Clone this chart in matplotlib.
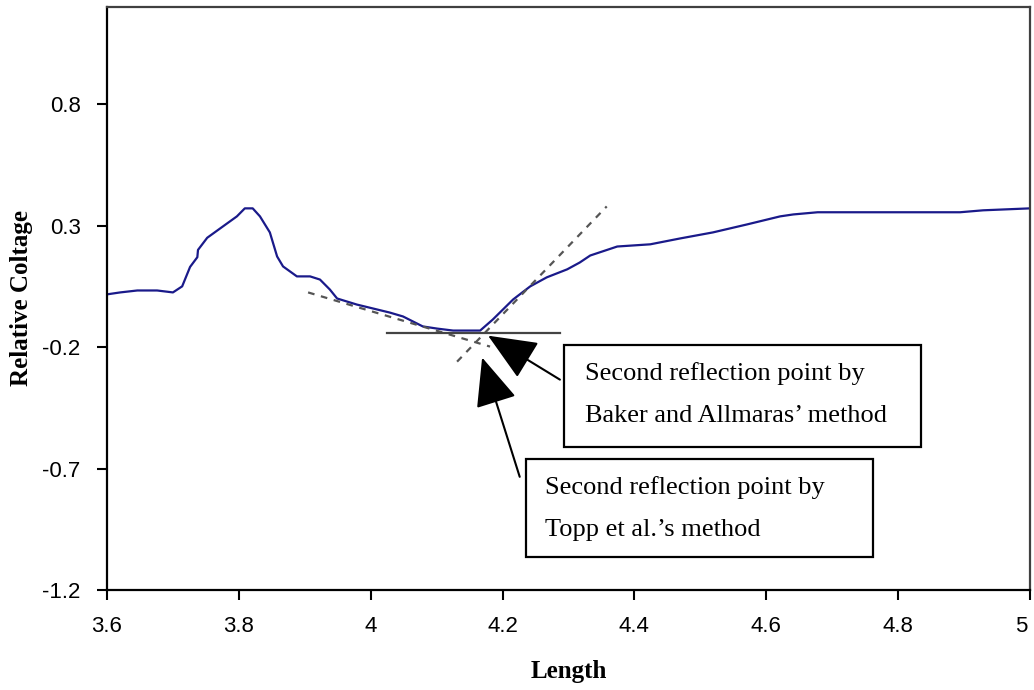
import numpy as np
import matplotlib
matplotlib.use("Agg")
import matplotlib.pyplot as plt
import matplotlib.transforms as mtransforms
from matplotlib.patches import Rectangle
from matplotlib.ticker import FuncFormatter

# reflection trace
length = [3.600, 3.620, 3.646, 3.676, 3.700, 3.714, 3.726, 3.737, 3.738, 3.752,
          3.776, 3.797, 3.809, 3.821, 3.832, 3.847, 3.858, 3.867, 3.888, 3.908,
          3.923, 3.938, 3.949, 3.979, 4.029, 4.049, 4.079, 4.101, 4.125, 4.166,
          4.185, 4.216, 4.242, 4.267, 4.298, 4.317, 4.333, 4.374, 4.424, 4.469,
          4.519, 4.571, 4.621, 4.641, 4.678, 4.894, 4.929, 5.000]
voltage = [0.017, 0.025, 0.033, 0.033, 0.025, 0.050, 0.130, 0.170, 0.200, 0.250,
           0.297, 0.338, 0.371, 0.371, 0.338, 0.272, 0.173, 0.132, 0.091, 0.091,
           0.078, 0.037, 0.000, -0.025, -0.058, -0.074, -0.115, -0.124, -0.132, -0.132,
           -0.087, -0.004, 0.050, 0.087, 0.120, 0.148, 0.177, 0.214, 0.223, 0.247,
           0.272, 0.305, 0.338, 0.346, 0.355, 0.355, 0.363, 0.371]

# tangent lines
tan1_x = [3.905, 4.181]
tan1_y = [0.025, -0.198]
tan2_x = [4.131, 4.358]
tan2_y = [-0.260, 0.379]
base_x = [4.025, 4.287]
base_y = [-0.140, -0.140]

xticks = [3.6, 3.8, 4.0, 4.2, 4.4, 4.6, 4.8, 5.0]
yticks = [-1.2, -0.7, -0.2, 0.3, 0.8]

baker_text = "Second reflection point by\nBaker and Allmaras\u2019 method"
topp_text = "Second reflection point by\nTopp et al.\u2019s method"

fig = plt.figure(figsize=(10.34, 6.9), dpi=100)
ax = fig.add_axes([0.1035, 0.1449, 0.8926, 0.845])

ax.plot(length, voltage, color="#1a1a8a", lw=1.6)
ax.plot(tan1_x, tan1_y, color="#555555", lw=1.6, ls=(0, (3, 3)))
ax.plot(tan2_x, tan2_y, color="#555555", lw=1.6, ls=(0, (3, 3)))
ax.plot(base_x, base_y, color="#444444", lw=1.6)

ax.set_xlim(3.6, 5.0)
ax.set_ylim(-1.2, 1.2)
ax.set_xticks(xticks)
ax.set_yticks(yticks)
fmt = FuncFormatter(lambda v, p: "%g" % v)
ax.xaxis.set_major_formatter(fmt)
ax.yaxis.set_major_formatter(fmt)
ax.tick_params(direction="out", length=7, width=1.5, labelsize=16, pad=12)
for lab in ax.get_xticklabels() + ax.get_yticklabels():
    lab.set_family("Liberation Sans")
# last x label sits against the right edge
last = ax.get_xticklabels()[-1]
last.set_transform(last.get_transform() + mtransforms.ScaledTranslation(-6 / 72, 0, fig.dpi_scale_trans))
for s in ax.spines.values():
    s.set_linewidth(1.6)
ax.spines["top"].set_color("#404040")
ax.spines["right"].set_color("#404040")

ax.set_xlabel("Length", family="Liberation Serif", weight="bold", fontsize=18, labelpad=16)
ax.set_ylabel("Relative Coltage", family="Liberation Serif", weight="bold", fontsize=18, labelpad=7)

# call-out boxes
ax.add_patch(Rectangle((4.293, -0.610), 0.542, 0.420, fill=False, lw=1.6, ec="black", zorder=3))
ax.add_patch(Rectangle((4.236, -1.064), 0.526, 0.404, fill=False, lw=1.6, ec="black", zorder=3))
ax.text(4.325, -0.394, baker_text, family="Liberation Serif", fontsize=19,
        va="center", ha="left", linespacing=2.2)
ax.text(4.264, -0.864, topp_text, family="Liberation Serif", fontsize=19,
        va="center", ha="left", linespacing=2.2)

arrow = dict(arrowstyle="-|>,head_length=1.4,head_width=0.6", color="black",
             lw=1.5, mutation_scale=22, shrinkA=0, shrinkB=0)
ax.annotate("", xy=(4.178, -0.153), xytext=(4.287, -0.334), arrowprops=arrow)
ax.annotate("", xy=(4.169, -0.243), xytext=(4.226, -0.734), arrowprops=arrow)

fig.savefig("out.png", dpi=100)
